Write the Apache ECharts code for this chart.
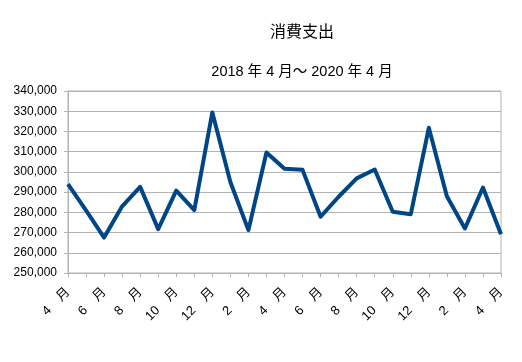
<!DOCTYPE html>
<html><head><meta charset="utf-8">
<script src="https://cdn.jsdelivr.net/npm/echarts@6/dist/echarts.min.js"></script>
<style>html,body{margin:0;padding:0;background:#fff}#c{width:522px;height:362px}</style>
</head><body><div id="c"></div>
<script>
const categories = ['4 月','5 月','6 月','7 月','8 月','9 月','10 月','11 月','12 月','1 月','2 月','3 月','4 月','5 月','6 月','7 月','8 月','9 月','10 月','11 月','12 月','1 月','2 月','3 月','4 月'];
const values = [294000,281000,267500,283000,292600,271700,290700,281100,329400,295000,271200,309600,301500,301000,277800,287700,296800,301200,280300,279100,321800,288000,272000,292300,269200];
const titleText = '消費支出';
const subtitleText = '2018 年 4 月〜 2020 年 4 月';

const chart = echarts.init(document.getElementById('c'));
chart.setOption({
  animation: false,
  backgroundColor: '#fff',
  title: [
    {text: titleText, left: 297, top: 18, textAlign: 'center',
     textStyle: {fontFamily: 'Noto Sans CJK JP', fontSize: 16, fontWeight: 'normal', color: '#000'}},
    {text: subtitleText, left: 297, top: 60, textAlign: 'center',
     textStyle: {fontFamily: 'Liberation Sans, Noto Sans CJK JP', fontSize: 14.5, fontWeight: 'normal', color: '#000'}}
  ],
  grid: {left: 68, right: 21, top: 91, bottom: 89, show: true, borderColor: '#b3b3b3', borderWidth: 1},
  xAxis: {
    type: 'category', data: categories, boundaryGap: false,
    axisLine: {lineStyle: {color: '#b3b3b3'}},
    axisTick: {show: true, interval: 0, length: 4, lineStyle: {color: '#b3b3b3'}},
    axisLabel: {interval: 1, rotate: 45, margin: 17, color: '#000', fontSize: 13,
      fontFamily: 'Liberation Sans, Noto Sans CJK JP',
      formatter: s => s.replace(' ', '\u3000')}
  },
  yAxis: {
    type: 'value', min: 250000, max: 340000, interval: 10000,
    axisLine: {show: true, lineStyle: {color: '#b3b3b3'}},
    axisTick: {show: true, length: 4, lineStyle: {color: '#b3b3b3'}},
    splitLine: {lineStyle: {color: '#b3b3b3'}},
    axisLabel: {color: '#000', fontSize: 12, margin: 11, fontFamily: 'Liberation Sans',
      formatter: v => v.toLocaleString('en-US')}
  },
  series: [{
    type: 'line', data: values, symbol: 'none',
    lineStyle: {color: '#004586', width: 4, join: 'round'}
  }]
});
</script></body></html>
